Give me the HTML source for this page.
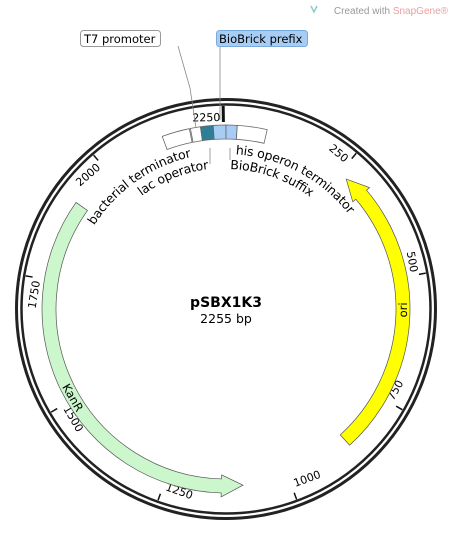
<!DOCTYPE html>
<html><head><meta charset="utf-8"><style>
html,body{margin:0;padding:0;background:#fff;}
svg{display:block;font-family:"DejaVu Sans","Liberation Sans",sans-serif;}
</style></head><body>
<svg id="map" width="453" height="549" viewBox="0 0 453 549">
  <defs>
    <path id="c156" d="M70,309 A156,156 0 1 1 382,309"/>
    <path id="c141" d="M85,309 A141,141 0 1 1 367,309"/>
    <path id="c155" d="M71,309 A155,155 0 1 1 381,309"/>
    <path id="c140" d="M86,309 A140,140 0 1 1 366,309"/>
  </defs>
  <text x="448" y="14" font-size="10" fill="#999" text-anchor="end" font-family="Liberation Sans">Created with <tspan fill="#e8a0a0">SnapGene®</tspan></text>
  <path d="M311 6 l3 6 l3 -6" stroke="#8cc" fill="none" stroke-width="1.5"/>
  <g id="ring"></g>
  <g id="ticks"></g>
  <g id="feats"></g>
  <text x="226" y="307" font-size="14" font-weight="bold" text-anchor="middle">pSBX1K3</text>
  <text x="226" y="323" font-size="12.5" text-anchor="middle">2255 bp</text>
  <g>
    <polyline points="178,46 190,88 196,128" fill="none" stroke="#888" stroke-width="0.8"/>
    <rect x="80.5" y="30.5" width="80" height="16" rx="3" fill="#fff" stroke="#999"/>
    <text x="84" y="43" font-size="11.5">T7 promoter</text>
  </g>
  <g>
    <line x1="220" y1="46" x2="220" y2="120" stroke="#888" stroke-width="0.8"/>
    <rect x="216.5" y="30.5" width="91" height="16" rx="3" fill="#a8cdf5" stroke="#7aa9de"/>
    <text x="219" y="43" font-size="11.5">BioBrick prefix</text>
  </g>
  <line x1="210" y1="148" x2="210" y2="164" stroke="#888" stroke-width="0.8"/>
  <line x1="230" y1="148" x2="230" y2="160" stroke="#888" stroke-width="0.8"/>
  <text font-size="12.5"><textPath href="#c156" startOffset="88" textLength="122" lengthAdjust="spacing">bacterial terminator</textPath></text>
  <text font-size="12.5"><textPath href="#c141" startOffset="131" textLength="73" lengthAdjust="spacing">lac operator</textPath></text>
  <text font-size="12.5"><textPath href="#c155" startOffset="253" textLength="132" lengthAdjust="spacing">his operon terminator</textPath></text>
  <text font-size="12.5"><textPath href="#c140" startOffset="224" textLength="86" lengthAdjust="spacing">BioBrick suffix</textPath></text>
</svg>
<script>
const totalLength = 2255;
const tickPositions = [250,500,750,1000,1250,1500,1750,2000,2250];
const tickLabels = ["250","500","750","1000","1250","1500","1750","2000","2250"];
const boxNames = ["bacterial-terminator","t7-promoter","lac-operator","biobrick-prefix","biobrick-suffix","his-operon-terminator"];
const boxStarts = [2128,2185,2205,2230,0,22];
const boxEnds = [2183,2205,2230,2255,22,81];
const arrowNames = ["kanr","ori"];
const arrowStarts = [1093,268];
const arrowEnds = [1913,863];
const arrowLabels = ["KanR","ori"];

const NS="http://www.w3.org/2000/svg";
const cx=226, cy=309, R=208;
const rIn=170, rOut=184;
function ang(p){return p/totalLength*360;}
function pt(a,r){const t=a*Math.PI/180;return [cx+r*Math.sin(t), cy-r*Math.cos(t)];}
function mk(tag,attrs,parent){const e=document.createElementNS(NS,tag);for(const k in attrs)e.setAttribute(k,attrs[k]);parent.appendChild(e);return e;}
function arcPath(a0,a1){
  if(a1<a0)a1+=360;
  const large=(a1-a0)>180?1:0;
  const p1=pt(a0,rOut),p2=pt(a1,rOut),p3=pt(a1,rIn),p4=pt(a0,rIn);
  return `M${p1} A${rOut},${rOut} 0 ${large} 1 ${p2} L${p3} A${rIn},${rIn} 0 ${large} 0 ${p4} Z`;
}
const ring=document.getElementById('ring');
mk('circle',{cx,cy,r:R+1.5,fill:'none',stroke:'#222','stroke-width':3},ring);
mk('circle',{cx,cy,r:R-3.5,fill:'none',stroke:'#222','stroke-width':2.5},ring);

const tg=document.getElementById('ticks');
tickPositions.forEach((p,i)=>{
  const a=ang(p);
  const g=mk('g',{},tg);
  
  
  const big=(p===2250);
  const s=pt(a,R-5), e=pt(a,big?R-21:R-12);
  mk('line',{x1:s[0],y1:s[1],x2:e[0],y2:e[1],stroke:'#111','stroke-width':big?3:1.5},g);
  const flip=(a>90&&a<270);
  const rot=flip?a-180:a;
  const anchor=pt(a,R-16);
  const t=mk('text',{transform:`translate(${anchor[0]},${anchor[1]}) rotate(${rot})`,'font-size':11,'text-anchor':flip?'start':'end',x:flip?3:-3,y:flip?-1:4},g);
  t.textContent=tickLabels[i];
});

const fg=document.getElementById('feats');
const boxFill={"lac-operator":"#2e7f96","biobrick-prefix":"#a8cdf5","biobrick-suffix":"#a8cdf5"};
boxNames.forEach((n,i)=>{
  const a0=ang(boxStarts[i]),a1=ang(boxEnds[i]);
  const el=mk('path',{d:arcPath(a0,a1),fill:boxFill[n]||'#fff',stroke:'#666','stroke-width':0.8},fg);
  
  
});
const arrowFill=["#ccf7cc","#ffff00"];
arrowNames.forEach((n,i)=>{
  const a0=ang(arrowStarts[i]),a1=ang(arrowEnds[i]);
  const head=7;
  const hb=a0+head, large=(a1-hb)>180?1:0;
  const tip=pt(a0,(rIn+rOut)/2), o1=pt(hb,rOut),o2=pt(a1,rOut),i2=pt(a1,rIn),i1=pt(hb,rIn);
  const ho=pt(hb,rOut+4), hi=pt(hb,rIn-4);
  const d=`M${tip} L${ho} L${o1} A${rOut},${rOut} 0 ${large} 1 ${o2} L${i2} A${rIn},${rIn} 0 ${large} 0 ${i1} L${hi} Z`;
  const el=mk('path',{d,fill:arrowFill[i],stroke:'#555','stroke-width':0.7},fg);
  
  
  const mid=(a0+a1)/2, lp=pt(mid,(rIn+rOut)/2);
  const t=mk('text',{transform:`translate(${lp[0]},${lp[1]}) rotate(${mid-180})`,'font-size':11.5,'text-anchor':'middle',y:4},fg);
  
  
  t.textContent=arrowLabels[i];
});
</script>
</body></html>
